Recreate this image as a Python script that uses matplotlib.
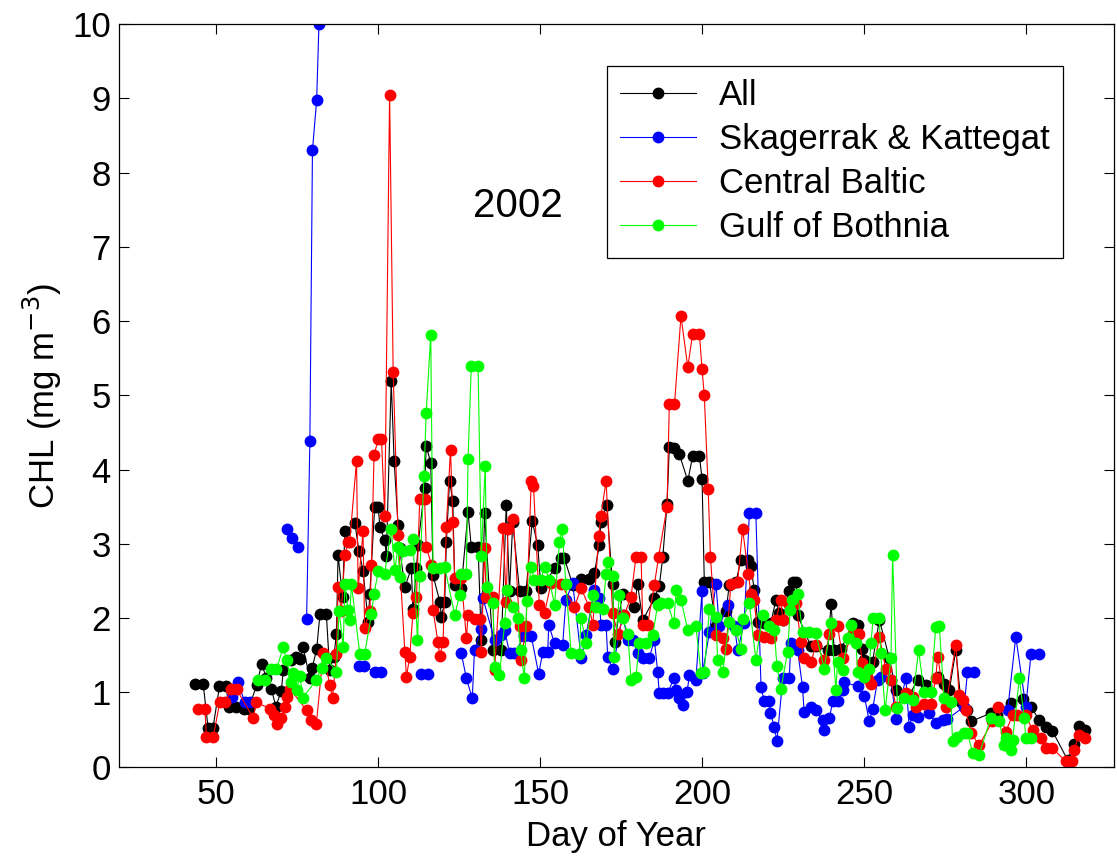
import numpy as np
import matplotlib
matplotlib.use("Agg")
import matplotlib.pyplot as plt

nan = np.nan

# All stations
all_day = [43.5, 46.0, 47.5, 49.0, 51.0, 53.0, 54.0, 56.0, 58.5, 60.0, 62.5, 64.0, 65.5, 67.0, 68.4,
           70.1, 70.7, 73.2, 74.7, 75.8, 76.8, 78.9, 79.6, 81.0, 82.0, 84.0, 85.0, 86.3, 87.1, 87.6,
           89.0, 89.7, 92.8, 94.0, 95.3, 96.9, 97.4, 98.9, 100.0, 100.5, 102.0, 102.5, 104.0, 104.9,
           106.1, 106.6, 108.2, 110.2, 110.7, 111.8, 112.3, 114.3, 114.8, 116.2, 116.9, 119.0, 119.5,
           120.5, 121.0, 122.0, 123.0, 123.6, 125.6, 127.7, 128.7, 130.8, 131.8, 132.8, 135.4, 137.9,
           139.5, 140.5, 141.5, 143.6, 145.6, 147.5, 149.2, 150.2, 154.4, 156.4, 157.4, 160.0, 162.6,
           165.1, 166.7, 168.2, 168.7, 170.5, 172.3, 172.9, 175.4, 179.0, 180.0, 181.6, 185.2, 186.7,
           187.8, 189.1, 189.8, 191.4, 192.9, 195.5, 197.0, 199.1, 199.9, 200.6, 202.2, 204.2, 207.3,
           208.3, 210.4, 211.9, 214.0, 215.0, 216.0, 217.1, 219.1, 221.1, 222.7, 223.7, 224.8, 226.8,
           227.9, 228.9, 229.4, 233.5, 235.0, 238.7, 239.7, 240.7, 242.8, 246.4, 247.9, 249.4, 250.0,
           252.5, 254.6, 257.7, 259.7, 263.8, 266.4, 269.0, 272.6, 274.6, 276.2, 278.2, 279.8, 281.8,
           282.9, 289.0, 291.0, 295.2, 298.8, 301.3, 303.9, 306.0, 308.0, 312.7, 314.7, 316.3, 318.0]
all_chl = [1.11, 1.11, 0.52, 0.52, 1.08, 1.08, 0.81, 0.80, 0.78, 0.78, 1.10, 1.38, 1.20, 1.05, 0.81,
           1.02, 1.30, 1.44, 1.48, 1.45, 1.61, 1.19, 1.33, 1.58, 2.05, 2.05, 1.30, 1.48, 1.79, 2.85,
           2.29, 3.17, 3.28, 2.91, 2.64, 1.95, 2.33, 3.50, 3.50, 3.23, 3.05, 2.84, 5.19, 4.12,
           3.26, 2.94, 2.42, 2.67, 2.13, 2.67, 2.99, 3.76, 4.32, 4.09, 2.58, 2.22, 2.02,
           2.22, 3.02, 3.85, 3.58, 2.45, 2.40, 3.43, 2.96, 2.96, 1.70, 3.41, 1.57, 1.57,
           3.52, 2.36, 3.29, 2.36, 2.36, 3.31, 2.98, 2.40, 2.67, 2.81, 2.81, 2.45, 2.53,
           2.53, 2.61, 2.98, 3.30, 3.52, 2.46, 1.68, 2.33, 2.15, 2.46, 1.97, 2.27, 2.43,
           2.83, 3.54, 4.30, 4.29, 4.21, 3.85, 4.18, 4.18, 3.88, 2.49, 2.49, 1.89, 2.09,
           2.45, 2.49, 2.79, 2.79, 2.70, 2.38, 1.95, 1.93, 1.93, 2.25, 2.07, 1.98, 2.36,
           2.49, 2.49, 2.04, 1.62, 1.62, 1.57, 2.19, 1.57, 1.58, 1.93, 1.91, 1.59, 1.44,
           1.41, 1.98, 1.46, 1.03, 0.96, 1.17, 1.10, 1.21, 1.12, 1.03, 1.57, 0.87, 0.76,
           0.61, 0.72, 0.70, 0.86, 0.91, 0.81, 0.63, 0.54, 0.48, 0.09, 0.31, 0.55, 0.49]

# Skagerrak & Kattegat
sk_day = [54.8, 56.7, 58.8, 60.4, nan, 71.7, 73.4, 75.1, nan, 77.9, 78.9, 79.7, 81.0, 81.7, nan,
          94.0, 95.6, 98.9, 101.0, nan, 113.3, 115.4, nan, 125.6, 127.2, 129.0, 129.7, 131.8, 132.3,
          135.9, 138.0, 139.0, 140.5, 142.0, 145.1, 147.2, 149.5, 150.8, 152.3, 152.6, 154.4, 156.9,
          157.9, 160.0, 162.6, 164.1, 166.7, 168.2, 168.7, 170.3, 170.8, 172.3, 175.4, 177.0, 178.5,
          180.0, 181.6, 183.6, 185.2, 186.2, 186.7, 187.8, 189.3, 191.2, 191.9, 192.9, 193.9, 195.3,
          196.0, 198.0, 199.9, 200.1, 202.2, 204.2, 205.2, 208.0, 209.9, 210.9, 212.9, 214.5, 216.5,
          218.1, 219.1, 220.6, 221.0, 222.2, 223.0, 224.8, 226.8, 227.3, 229.4, 230.9, 231.4, 233.5,
          235.0, 237.1, 237.6, 239.2, 240.2, 241.7, 243.3, 243.8, 247.9, 250.0, 251.5, 252.5, 254.1,
          255.1, 258.2, 259.7, 262.8, 263.8, 264.9, 266.4, 270.0, 272.0, 274.1, 275.6, 280.8, 281.8,
          283.9, nan, 294.2, 296.7, 299.8, 301.4, 303.9]
sk_chl = [0.94, 1.14, 0.87, 0.87, nan, 3.20, 3.08, 2.96, nan, 1.99, 4.38, 8.30, 8.98, 10.0, nan,
          1.35, 1.35, 1.28, 1.28, nan, 1.25, 1.25, nan, 1.53, 1.19, 0.92, 1.57, 1.86, 2.27,
          1.70, 1.77, 1.84, 1.53, 1.53, 1.76, 1.76, 1.25, 1.55, 1.55, 1.91, 1.66, 1.64,
          2.25, 2.47, 1.46, 1.77, 2.38, 2.27, 1.91, 1.91, 1.48, 1.31, 2.04, 1.70, 1.70,
          1.53, 1.46, 1.46, 1.71, 1.28, 0.99, 0.99, 0.99, 1.19, 1.03, 0.92, 0.83, 1.01,
          1.23, 1.17, 2.37, 1.26, 1.82, 2.46, 1.89, 2.18, 1.89, 1.57, 1.93, 3.41, 3.41,
          1.07, 0.88, 0.88, 0.72, 0.54, 0.34, 1.19, 1.19, 1.66, 1.57, 1.07, 0.74, 0.81,
          0.76, 0.63, 0.49, 0.65, 0.88, 0.88, 1.03, 1.14, 1.08, 0.95, 0.61, 0.77, 1.17,
          1.21, 1.17, 0.64, 1.19, 0.54, 0.70, 0.67, 0.72, 0.59, 0.63, 0.64, 0.81, 1.28,
          1.28, nan, 0.76, 1.75, 0.81, 1.52, 1.52]

# Central Baltic
cb_day = [44.4, 46.5, 47.0, 49.1, 51.1, 52.7, 54.7, 56.3, 61.4, 62.4, 66.5, 67.8, 68.8, 70.1, 71.2,
          71.7, 72.7, 77.9, 79.4, 80.9, 83.0, 85.1, 85.9, 87.1, 87.6, 88.6, 89.7, 90.7, 91.2, 93.3,
          93.8, 95.3, 95.8, 97.4, 97.9, 98.7, 100.0, 101.0, 102.0, 103.5, 104.6, 106.1, 108.2, 108.7,
          109.7, 110.7, 111.8, 112.8, 114.3, 114.8, 116.4, 116.9, 118.4, 119.0, 120.0, 121.0, 122.3,
          123.0, 123.6, 125.6, 127.2, 127.7, 129.7, 131.3, 131.8, 132.8, 133.3, 135.4, 135.9, 138.5,
          139.5, 140.0, 141.7, 143.6, 144.1, 145.6, 147.2, 147.9, 149.7, 151.3, 153.3, 156.4, 160.5,
          162.6, 165.1, 166.2, 168.0, 168.7, 170.3, 172.3, 173.9, 175.9, 178.0, 179.5, 181.1, 181.6,
          183.1, 185.2, 186.5, 189.1, 189.8, 191.4, 193.4, 195.5, 197.0, 199.1, 199.9, 200.6, 201.8,
          202.5, 204.2, 206.3, 207.3, 208.8, 210.9, 212.4, 214.2, 215.0, 216.0, 217.1, 219.1, 221.1,
          222.7, 224.2, 224.8, 226.3, 228.9, 230.4, 231.4, 233.5, 235.1, 237.6, 239.2, 241.7, 243.3,
          246.4, 248.2, 249.4, 251.0, 252.0, 254.6, 256.6, 258.2, 259.7, 262.8, 264.9, 265.9, 268.4,
          270.5, 272.0, 272.6, 275.1, 278.2, 279.2, 280.3, 281.3, 282.9, 285.4, 289.5, 291.1, 293.6,
          295.7, 297.2, 299.8, 301.9, 304.4, 306.0, 308.0, 312.1, 314.2, 314.7, 316.3, 318.0]
cb_chl = [0.78, 0.78, 0.40, 0.40, 0.87, 0.87, 1.04, 1.04, 0.66, 0.87, 0.78, 0.70, 0.57, 0.66, 0.81,
          0.94, 1.05, 0.76, 0.63, 0.57, 1.53, 1.10, 0.93, 1.52, 2.42, 2.09, 2.85, 3.02, 3.03, 4.12,
          2.40, 3.17, 1.87, 2.09, 2.72, 4.20, 4.41, 4.41, 3.38, 9.05, 5.32, 3.12, 1.55, 1.21,
          1.48, 2.07, 2.28, 3.61, 3.61, 2.96, 2.72, 2.11, 1.68, 1.49, 1.68, 3.23, 4.27,
          3.29, 2.54, 2.54, 1.73, 2.04, 1.99, 1.99, 1.55, 2.94, 2.29, 2.29, 1.30, 3.21,
          2.22, 3.20, 3.34, 1.89, 1.43, 1.89, 3.85, 3.78, 2.18, 2.07, 2.47, 2.46, 2.15,
          2.40, 2.15, 1.91, 3.11, 3.38, 3.85, 2.07, 1.79, 2.04, 2.29, 2.82, 2.82, 1.91,
          1.91, 2.45, 2.83, 3.50, 4.88, 4.88, 6.07, 5.38, 5.83, 5.83, 5.35, 5.00, 3.74,
          2.82, 1.77, 1.73, 1.58, 2.46, 2.49, 3.20, 2.60, 2.33, 2.24, 1.77, 1.75, 1.73,
          1.98, 2.25, 1.98, 2.20, 2.20, 1.68, 1.46, 1.41, 1.64, 1.44, 1.79, 1.90, 1.46,
          1.80, 1.79, 1.39, 1.18, 1.12, 1.75, 1.31, 1.17, 0.81, 0.99, 0.94, 0.81, 0.85,
          0.84, 1.19, 1.48, 0.81, 1.64, 0.96, 0.90, 0.76, 0.45, 0.29, 0.61, 0.81, 0.47,
          0.69, 0.69, 0.69, 0.49, 0.38, 0.25, 0.25, 0.07, 0.07, 0.23, 0.43, 0.38]

# Gulf of Bothnia
gb_day = [63.0, 65.0, 67.0, 68.6, 70.7, 71.7, 73.2, 73.7, 74.8, 75.8, 76.8, 80.9, 82.5, 84.0, 87.1,
          87.9, 89.2, 89.7, 90.7, 91.2, 91.7, 94.3, 95.8, 97.9, 98.7, 100.0, 102.0, 104.0, 105.1,
          106.1, 106.6, 107.6, 109.7, 110.7, 112.1, 112.8, 114.1, 114.8, 116.2, 116.9, 119.0, 120.5,
          123.6, 125.1, 125.6, 127.2, 127.7, 128.7, 130.8, 131.8, 133.0, 133.6, 135.4, 135.9, 137.4,
          139.0, 139.7, 141.5, 143.0, 143.9, 145.1, 145.8, 147.2, 148.2, 150.2, 151.3, 152.8, 154.4,
          155.9, 156.7, 157.9, 159.5, 162.0, 162.6, 164.1, 166.2, 167.2, 169.3, 170.3, 170.8, 172.3,
          172.8, 174.4, 175.4, 177.0, 178.0, 179.5, 180.6, 182.6, 184.7, 186.2, 187.3, 189.3, 191.2,
          191.9, 193.4, 195.5, 198.0, 199.6, 200.6, 202.2, 204.2, 204.7, 206.3, 208.3, 210.4, 211.9,
          212.4, 214.5, 216.5, 218.6, 220.6, 222.2, 223.0, 224.2, 226.3, 227.1, 227.8, 229.4, 230.9,
          233.0, 235.0, 237.6, 239.7, 241.2, 241.7, 243.3, 244.8, 245.8, 247.4, 247.9, 250.0, 251.5,
          252.0, 252.7, 254.6, 255.0, 256.4, 258.2, 258.7, 260.2, 262.3, 264.9, 266.7, 268.4, 270.5,
          272.0, 273.1, 274.6, 276.7, 277.2, 278.7, 280.8, 281.8, 283.4, 285.4, 289.0, 291.6, 293.1,
          293.6, 295.2, 295.7, 297.8, 299.3, 299.8, 301.3]
gb_chl = [1.17, 1.17, 1.31, 1.31, 1.61, 1.43, 1.14, 1.26, 1.03, 1.22, 0.93, 1.17, 1.33, 1.46, 1.28,
          2.10, 1.61, 2.46, 2.11, 1.98, 2.46, 1.52, 1.52, 2.05, 2.33, 2.63, 2.60, 3.20, 2.65,
          2.96, 2.56, 2.90, 2.92, 3.07, 1.70, 2.57, 3.91, 4.77, 5.82, 2.67, 2.68, 2.69,
          2.04, 2.31, 2.60, 2.60, 4.14, 5.39, 5.39, 2.84, 4.05, 2.42, 2.20, 1.34, 1.23,
          1.93, 2.38, 2.15, 2.00, 1.57, 1.19, 2.23, 2.69, 2.52, 2.52, 2.69, 2.51, 2.18,
          3.02, 3.20, 2.46, 1.53, 1.52, 2.00, 1.66, 2.31, 2.15, 2.13, 2.60, 2.76, 2.57,
          1.48, 2.31, 2.00, 1.79, 1.17, 1.21, 1.67, 1.67, 1.77, 2.18, 2.20, 2.20, 1.93,
          2.38, 2.25, 1.84, 1.89, 1.26, 1.28, 2.13, 2.01, 1.44, 1.28, 1.95, 1.84, 1.58,
          1.99, 2.20, 1.44, 2.04, 1.89, 1.84, 1.35, 1.04, 1.55, 2.11, 2.25, 2.33, 1.82,
          1.82, 1.80, 1.32, 1.93, 1.03, 1.41, 1.30, 1.73, 1.91, 1.66, 1.28, 1.21, 1.32,
          1.66, 2.00, 2.00, 1.53, 0.76, 1.46, 2.85, 0.79, 0.92, 0.90, 1.57, 1.01, 1.01,
          1.88, 1.89, 0.92, 0.87, 0.34, 0.40, 0.45, 0.45, 0.19, 0.16, 0.66, 0.62, 0.29,
          0.38, 0.22, 0.36, 1.19, 0.66, 0.38, 0.38]

series = [
    (all_day, all_chl, "black", "All"),
    (sk_day, sk_chl, "blue", "Skagerrak & Kattegat"),
    (cb_day, cb_chl, "red", "Central Baltic"),
    (gb_day, gb_chl, "#00ff00", "Gulf of Bothnia"),
]

plt.rcParams["font.family"] = ["Liberation Sans", "DejaVu Sans"]
fs = 25

fig = plt.figure(figsize=(11.17, 8.59), dpi=100)
ax = fig.add_axes([0.1065, 0.1075, 0.8908, 0.8643])

for d, c, col, lab in series:
    ax.plot(d, c, "-", color=col, lw=0.8, marker="o", ms=7.5, mec=col, mfc=col, label=lab)

ax.set_xlim(20, 327)
ax.set_ylim(0, 10)
ax.set_xticks([50, 100, 150, 200, 250, 300])
ax.set_yticks(range(0, 11))
ax.tick_params(direction="in", length=7, width=0.8, top=True, right=True, labelsize=fs)
ax.tick_params(axis="x", pad=8)
ax.tick_params(axis="y", pad=6)
for s in ax.spines.values():
    s.set_linewidth(0.9)

ax.set_xlabel("Day of Year", fontsize=fs, labelpad=7)
ax.set_ylabel("CHL (mg m$^{-3}$)", fontsize=fs, labelpad=6)

ax.text(143, 7.55, "2002", fontsize=29, ha="center", va="center")

leg = ax.legend(loc="upper left", bbox_to_anchor=(0.49, 0.944), borderaxespad=0,
                fontsize=fs, frameon=True, fancybox=False, edgecolor="black", framealpha=1,
                handlelength=2.2, handletextpad=0.65, labelspacing=0.32, borderpad=0.38,
                numpoints=1)
leg.get_frame().set_linewidth(0.9)

fig.savefig("out.png", dpi=100)
